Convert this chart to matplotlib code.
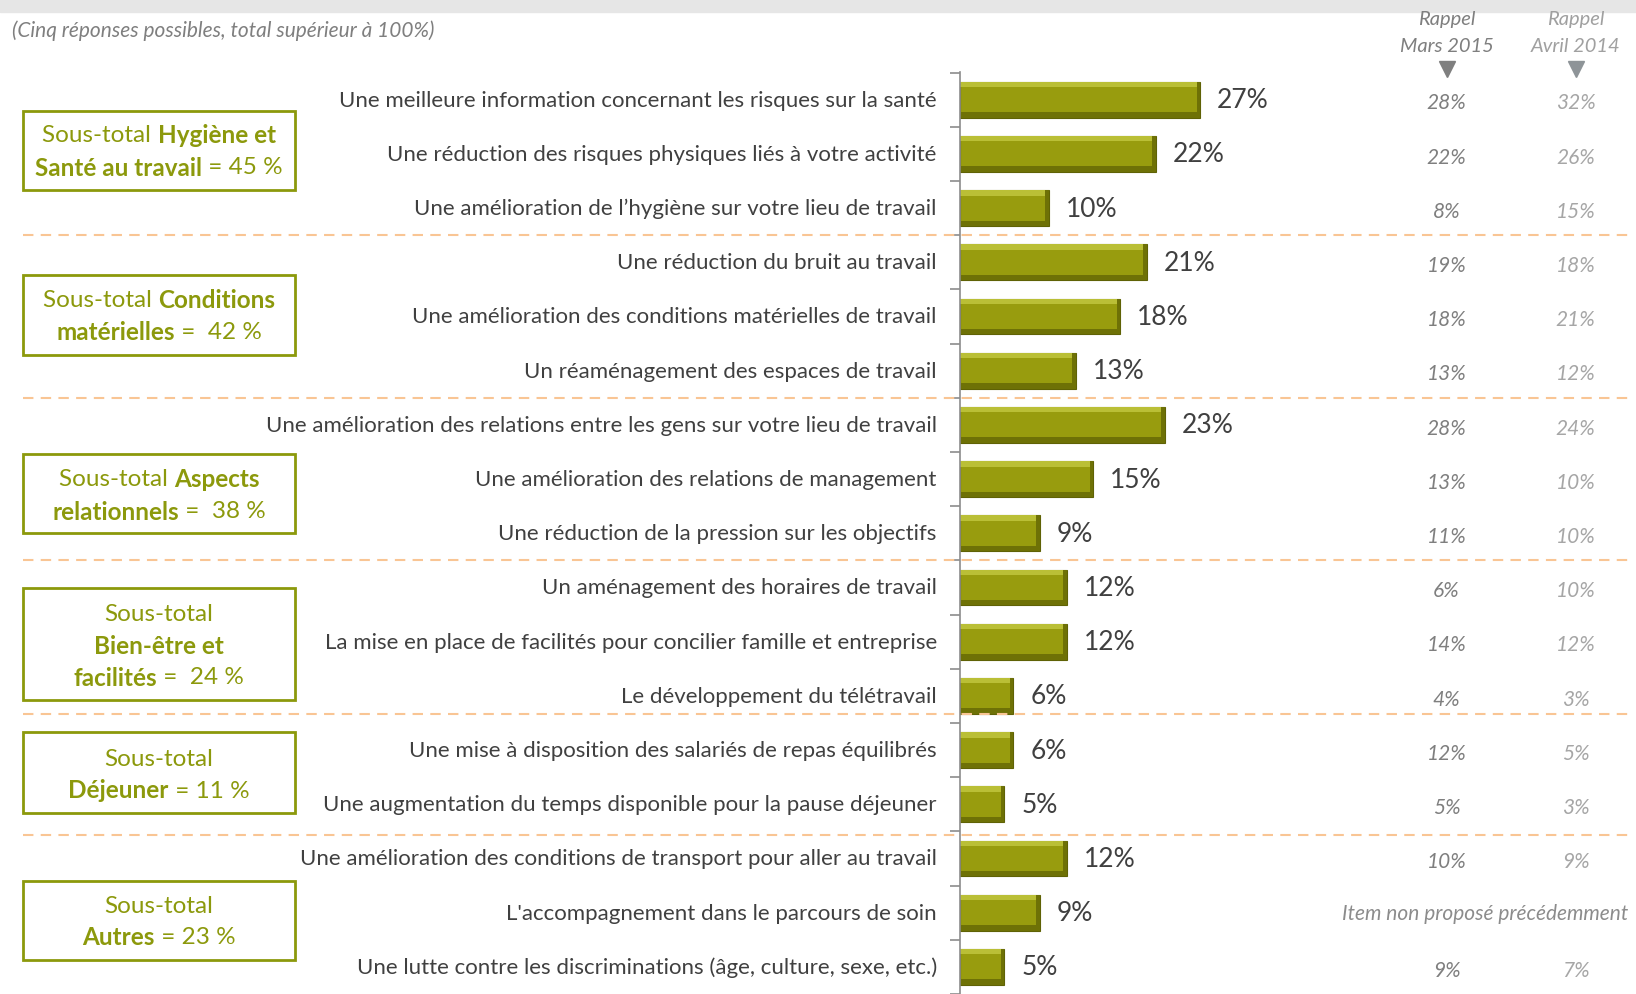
import numpy as np
import matplotlib.pyplot as plt
import matplotlib.transforms as mtransforms
from matplotlib.patches import Rectangle

plt.rcParams['font.family'] = ['Lato', 'DejaVu Sans']

# DATA
labels = [
    "Une meilleure information concernant les risques sur la santé",
    "Une réduction des risques physiques liés à votre activité",
    "Une amélioration de l’hygiène sur votre lieu de travail",
    "Une réduction du bruit au travail",
    "Une amélioration des conditions matérielles de travail",
    "Un réaménagement des espaces de travail",
    "Une amélioration des relations entre les gens sur votre lieu de travail",
    "Une amélioration des relations de management",
    "Une réduction de la pression sur les objectifs",
    "Un aménagement des horaires de travail",
    "La mise en place de facilités pour concilier famille et entreprise",
    "Le développement du télétravail",
    "Une mise à disposition des salariés de repas équilibrés",
    "Une augmentation du temps disponible pour la pause déjeuner",
    "Une amélioration des conditions de transport pour aller au travail",
    "L'accompagnement dans le parcours de soin",
    "Une lutte contre les discriminations (âge, culture, sexe, etc.)",
]
values = np.array([27, 22, 10, 21, 18, 13, 23, 15, 9, 12, 12, 6, 6, 5, 12, 9, 5])
mars2015 = [28, 22, 8, 19, 18, 13, 28, 13, 11, 6, 14, 4, 12, 5, 10, None, 9]
avril2014 = [32, 26, 15, 18, 21, 12, 24, 10, 10, 10, 12, 3, 5, 3, 9, None, 7]
separators = [2.5, 5.5, 8.5, 11.34, 13.56]

# boxes: (top px, bottom px, [lines of (text, bold)], [line y px])
boxes = [
    (112, 191, [[("Sous-total ", False), ("Hygiène et", True)],
                [("Santé au travail", True), (" = 45 %", False)]], [135.5, 168]),
    (276, 356, [[("Sous-total ", False), ("Conditions", True)],
                [("matérielles", True), (" =  42 %", False)]], [300.5, 333]),
    (455, 534, [[("Sous-total ", False), ("Aspects", True)],
                [("relationnels", True), (" =  38 %", False)]], [480, 512]),
    (589, 701, [[("Sous-total", False)], [("Bien-être et", True)],
                [("facilités", True), (" =  24 %", False)]], [614.5, 647, 678]),
    (733, 814, [[("Sous-total", False)],
                [("Déjeuner", True), (" = 11 %", False)]], [759.5, 791]),
    (882, 961, [[("Sous-total", False)],
                [("Autres", True), (" = 23 %", False)]], [906.5, 938]),
]

olive = '#989C0E'
box_color = '#8C990C'
W, H = 1636, 995


def rich_line(fig, x_px, y_px, parts, size=17.5, color=box_color):
    """Draw a centred line made of normal and bold pieces."""
    renderer = fig.canvas.get_renderer()
    texts = [fig.text(0, 0, s, fontsize=size, color=color, va='center',
                      fontweight='bold' if b else 'normal') for s, b in parts]
    widths = [t.get_window_extent(renderer).width for t in texts]
    x = x_px - sum(widths) / 2
    for t, w in zip(texts, widths):
        t.set_position((x / W, 1 - y_px / H))
        x += w


fig = plt.figure(figsize=(16.36, 9.95), dpi=100)
ax = fig.add_axes([960 / W, 0, 676 / W, (H - 73) / H])

y = np.arange(len(values))
bh = 0.66
plt.barh(y, values, height=bh, color=olive, edgecolor='#5f6205', linewidth=0.8)
plt.barh(y - bh / 2 + 0.05, values, height=0.1, color='#BABF36', linewidth=0)  # highlight
plt.barh(y + bh / 2 - 0.05, values, height=0.1, color='#6E7106', linewidth=0)  # shadow
plt.barh(y, 0.4, left=values - 0.4, height=bh, color='#6E7106', linewidth=0)

for i, (lab, v) in enumerate(zip(labels, values)):
    ax.text(-2.6, i, lab, ha='right', va='center', fontsize=16, color='#404040')
    ax.text(v + 1.9, i, f'{v}%', ha='left', va='center', fontsize=19, color='#404040')
    if mars2015[i] is None:
        ax.text(59.0, i, 'Item non proposé précédemment', ha='center', va='center',
                fontsize=15, style='italic', color='#8c8c8c')
    else:
        ax.text(54.7, i + 0.05, f'{mars2015[i]}%', ha='center', va='center',
                fontsize=15, style='italic', color='#7f7f7f')
        ax.text(69.2, i + 0.05, f'{avril2014[i]}%', ha='center', va='center',
                fontsize=15, style='italic', color='#a6a6a6')

# column headers
head = mtransforms.blended_transform_factory(ax.transData, fig.transFigure)
for xc, lines, col, tri in [(54.7, ('Rappel', 'Mars 2015'), '#7f7f7f', '#7f7f7f'),
                            (69.2, ('Rappel', 'Avril 2014'), '#a0a0a0', '#8e9498')]:
    ax.text(xc, 1 - 20 / H, lines[0], transform=head, ha='center', va='center', fontsize=14.5,
            style='italic', color=col, clip_on=False)
    ax.text(xc, 1 - 46 / H, lines[1], transform=head, ha='center', va='center', fontsize=14.5,
            style='italic', color=col, clip_on=False)
    ax.plot(xc, 1 - 70 / H, transform=head, marker='v', markersize=11, color=tri, clip_on=False)

# dashed separators across the whole figure (drawn over the bars)
trans = mtransforms.blended_transform_factory(fig.transFigure, ax.transData)
for s in separators:
    ax.plot([23 / W, 1631 / W], [s, s], transform=trans, color='#F9C594', linestyle=(0, (5, 3.5)),
            linewidth=1.5, clip_on=False, zorder=5)

# sub-total boxes
for top, bottom, lines, ys in boxes:
    fig.add_artist(Rectangle((23 / W, 1 - bottom / H), (295 - 23) / W, (bottom - top) / H,
                             transform=fig.transFigure, facecolor='none', edgecolor=box_color, linewidth=2))
    for parts, yl in zip(lines, ys):
        rich_line(fig, 159, yl, parts)

# grey title band and note
fig.add_artist(Rectangle((0, 1 - 13 / H), 1, 13 / H, transform=fig.transFigure, color='#e6e6e6', zorder=-1))
fig.text(12.5 / W, 1 - 31 / H, '(Cinq réponses possibles, total supérieur à 100%)', fontsize=15,
         style='italic', color='#7f7f7f', va='center')

plt.xlim(0, 76)
plt.ylim(16.4, -0.51)
ax.set_xticks([])
ax.set_yticks(np.arange(-0.5, 17, 1))
ax.set_yticklabels([])
ax.tick_params(axis='y', length=7, color='#8c8c8c', width=1.2)
for side in ['top', 'right', 'bottom']:
    ax.spines[side].set_visible(False)
ax.spines['left'].set_color('#8c8c8c')
ax.spines['left'].set_linewidth(1.2)

plt.savefig('out.png', dpi=100)
